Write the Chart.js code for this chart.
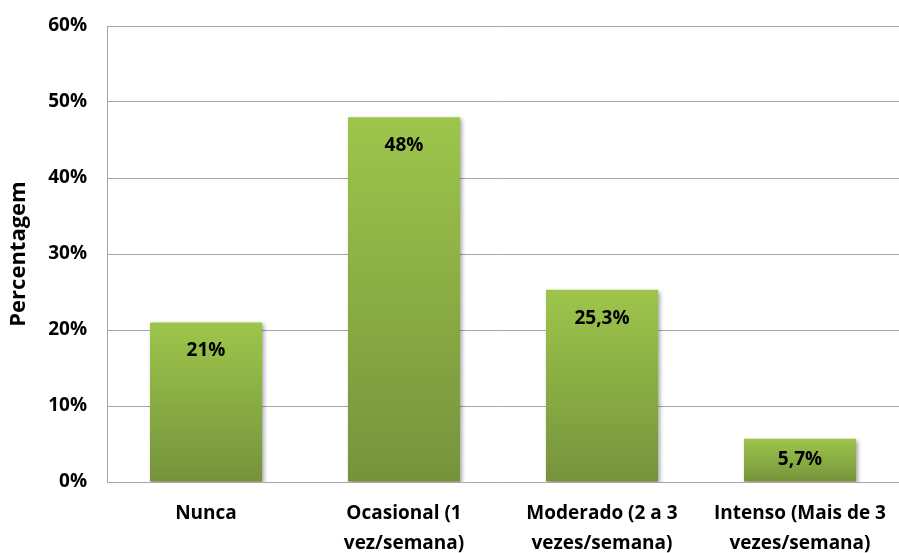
<!DOCTYPE html>
<html>
<head>
<meta charset="utf-8">
<script src="https://cdn.jsdelivr.net/npm/chart.js@4/dist/chart.umd.min.js"></script>
<style>
html,body{margin:0;padding:0;background:#fff;}
#wrap{width:899px;height:553px;position:relative;}
</style>
</head>
<body>
<div id="wrap"><canvas id="c" width="899" height="553"></canvas></div>
<script>
const categories = [
  ["Nunca"],
  ["Ocasional (1", "vez/semana)"],
  ["Moderado (2 a 3", "vezes/semana)"],
  ["Intenso (Mais de 3", "vezes/semana)"]
];
const values = [21, 48, 25.3, 5.7];
const valueLabels = ["21%", "48%", "25,3%", "5,7%"];
const yTicks = [0, 10, 20, 30, 40, 50, 60];
const yTitle = "Percentagem";

const FONT = "'Open Sans', sans-serif";
const FS = 19;

function barGradient(ctx) {
  const chart = ctx.chart;
  const area = chart.chartArea;
  if (!area || ctx.type !== 'data') return '#8cb043';
  const y = chart.scales.y;
  const top = y.getPixelForValue(ctx.raw);
  const base = y.getPixelForValue(0);
  const g = chart.ctx.createLinearGradient(0, top, 0, base);
  g.addColorStop(0, '#9dc54b');
  g.addColorStop(1, '#76933c');
  return g;
}

const shadowPlugin = {
  id: 'shadowPlugin',
  beforeDatasetsDraw(chart) {
    const c = chart.ctx;
    c.save();
    c.shadowColor = 'rgba(0,0,0,0.35)';
    c.shadowBlur = 4;
    c.shadowOffsetX = 2;
    c.shadowOffsetY = 2;
  },
  afterDatasetsDraw(chart) {
    chart.ctx.restore();
    const c = chart.ctx;
    const meta = chart.getDatasetMeta(0);
    c.save();
    c.font = `bold ${FS}px ${FONT}`;
    c.fillStyle = '#000';
    c.textAlign = 'center';
    c.textBaseline = 'middle';
    meta.data.forEach((bar, i) => {
      const h = bar.base - bar.y;
      const off = Math.min(28.5, h / 2);
      c.fillText(valueLabels[i], bar.x, bar.y + off);
    });
    c.restore();
  }
};

new Chart(document.getElementById('c'), {
  type: 'bar',
  data: {
    labels: categories,
    datasets: [{
      data: values,
      backgroundColor: barGradient,
      borderWidth: 0,
      barPercentage: 0.566,
      categoryPercentage: 1.0
    }]
  },
  options: {
    responsive: false,
    animation: false,
    events: [],
    layout: { padding: { top: 26, right: -2, left: 0, bottom: 0 } },
    plugins: { legend: { display: false }, tooltip: { enabled: false } },
    scales: {
      x: {
        grid: { display: false, drawTicks: false },
        border: { color: '#a6a6a6', width: 1 },
        ticks: {
          color: '#000',
          font: { family: FONT, size: FS, weight: 'bold', lineHeight: 1.55 },
          padding: 17,
          maxRotation: 0,
          autoSkip: false
        },
        afterFit(s) {
          s.height = 553 - 482;
          s.paddingLeft = 0; s.paddingRight = 0;
          s.paddingTop = 0; s.paddingBottom = 0;
        }
      },
      y: {
        min: 0, max: 60,
        afterBuildTicks(s) { s.ticks = yTicks.map(v => ({ value: v })); },
        grid: { color: '#a6a6a6', lineWidth: 1, drawTicks: false },
        border: { color: '#a6a6a6', width: 1 },
        ticks: {
          color: '#000',
          font: { family: FONT, size: FS, weight: 'bold' },
          padding: 20,
          callback: v => v + '%'
        },
        title: {
          display: true,
          text: yTitle,
          color: '#000',
          font: { family: FONT, size: 22, weight: 'bold' },
          padding: { top: 6, bottom: 4 }
        },
        afterFit(s) {
          s.width = 107;
          s.paddingLeft = 0; s.paddingRight = 0;
          s.paddingTop = 0; s.paddingBottom = 0;
        }
      }
    }
  },
  plugins: [shadowPlugin]
});
</script>
</body>
</html>
